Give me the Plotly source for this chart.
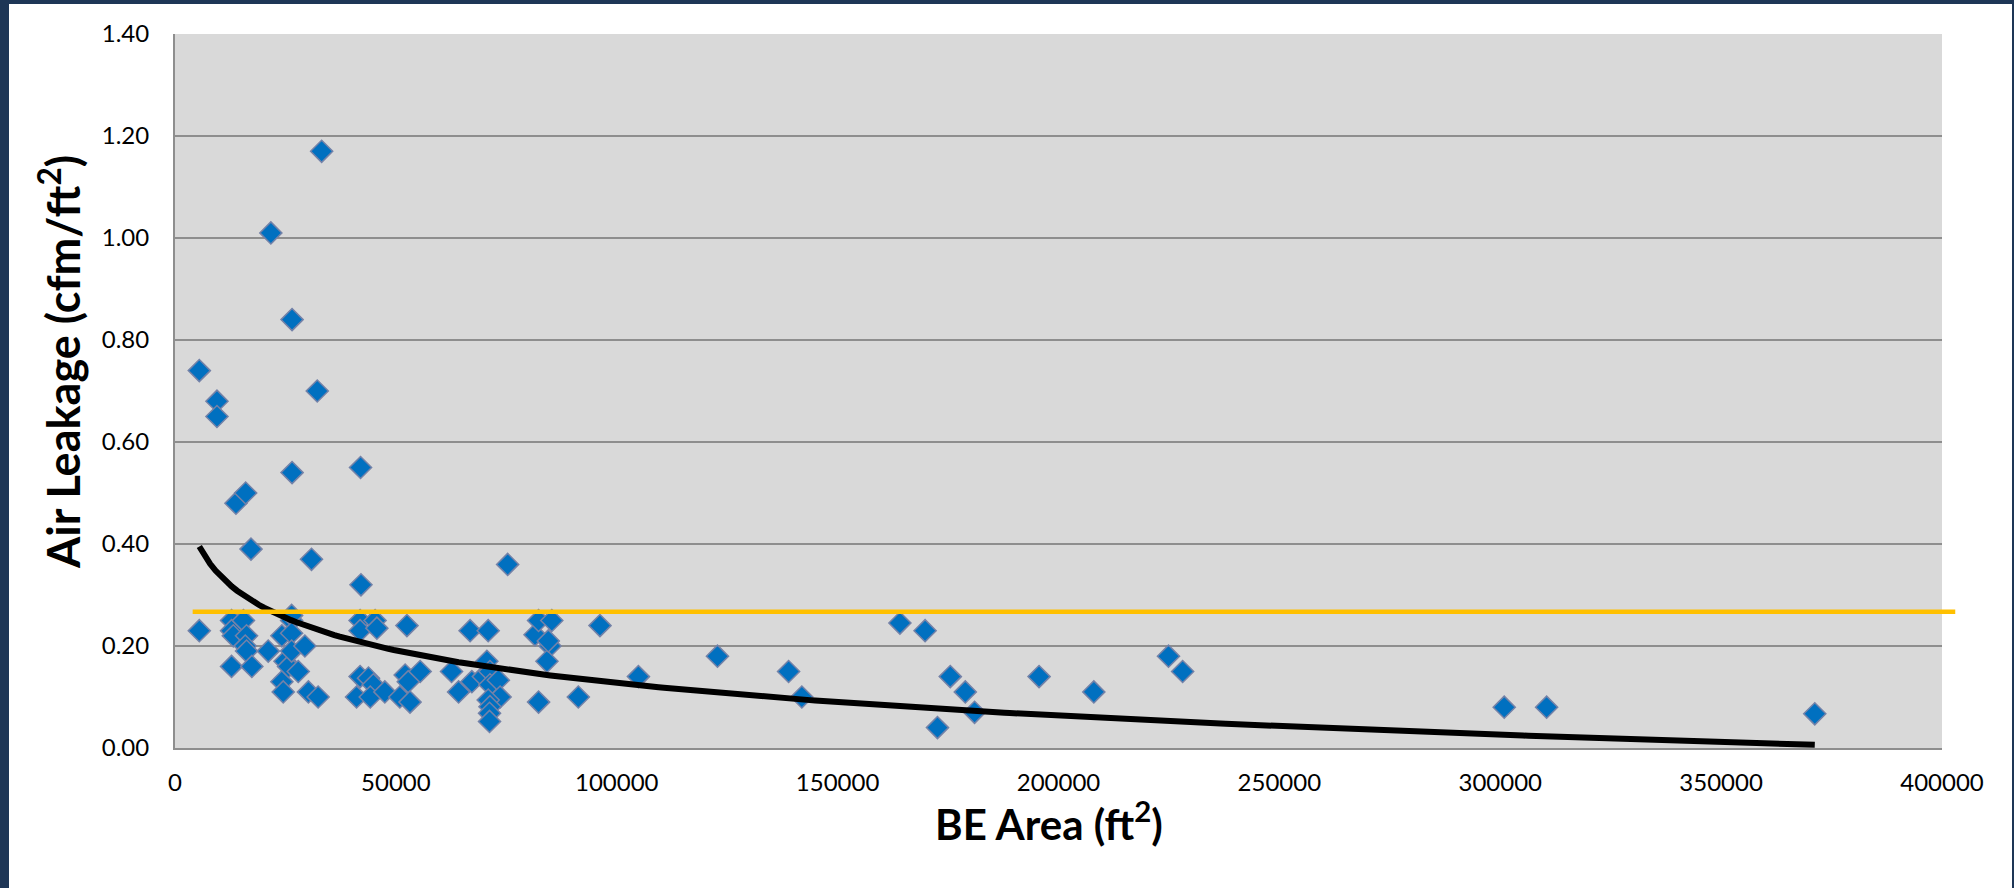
import numpy as np
import plotly.graph_objects as go

# ---- data ----
be_area_ft2 = [
    5500, 5500, 9500, 9500, 12800, 12800, 13200, 12800, 13800, 15500,
    16200, 15900, 16200, 16000, 17200, 17400, 21100, 21700, 24200, 24900,
    24200, 24500, 25700, 26400, 26400, 26400, 26400, 26500, 26500, 27900,
    29400, 30200, 30900, 32200, 32400, 33200, 41900, 41900, 42000, 42100,
    41900, 43800, 44900, 41100, 44200, 45300, 45700, 47500, 50900, 52100,
    52500, 52800, 53200, 55500, 62600, 64200, 66800, 67200, 69800, 70600,
    70900, 71300, 71300, 73200, 73600, 70900, 71300, 71200, 71200, 75300,
    81500, 82300, 82300, 84900, 84200, 85300, 84500, 91300, 96200, 104900,
    122800, 138900, 141900, 164100, 169800, 172600, 175500, 178900, 181000, 195600,
    208000, 224900, 228100, 300900, 310500, 371200,
]
air_leakage_cfm_ft2 = [
    0.74, 0.23, 0.68, 0.65, 0.25, 0.23, 0.22, 0.16, 0.48, 0.25,
    0.22, 0.20, 0.19, 0.50, 0.39, 0.16, 0.19, 1.01, 0.22, 0.17,
    0.13, 0.11, 0.16, 0.25, 0.26, 0.225, 0.19, 0.84, 0.54, 0.15,
    0.20, 0.11, 0.37, 0.70, 0.10, 1.17, 0.25, 0.23, 0.55, 0.32,
    0.14, 0.137, 0.124, 0.10, 0.10, 0.25, 0.235, 0.11, 0.10, 0.143,
    0.24, 0.13, 0.09, 0.15, 0.15, 0.11, 0.23, 0.13, 0.14, 0.17,
    0.23, 0.15, 0.124, 0.133, 0.10, 0.094, 0.081, 0.068, 0.052, 0.36,
    0.222, 0.25, 0.09, 0.20, 0.17, 0.25, 0.21, 0.10, 0.24, 0.14,
    0.18, 0.15, 0.10, 0.245, 0.23, 0.04, 0.14, 0.11, 0.07, 0.14,
    0.11, 0.18, 0.15, 0.08, 0.08, 0.067,
]

# logarithmic trendline y = a + b*ln(x), coefficients
trend_intercept = 1.190
trend_slope = -0.0923

# target (threshold) line
target_value = 0.267
target_x_start = 4000
target_x_end = 403000

x_axis_max = 400000
y_axis_max = 1.4
x_ticks = [0, 50000, 100000, 150000, 200000, 250000, 300000, 350000, 400000]
y_ticks = [0.0, 0.2, 0.4, 0.6, 0.8, 1.0, 1.2, 1.4]

xs = np.array(be_area_ft2, dtype=float)
trend_x = np.linspace(xs.min(), xs.max(), 300)
trend_y = trend_intercept + trend_slope * np.log(trend_x)

FONT = "Lato"
GRID = "#8E8E8E"

fig = go.Figure()

fig.add_trace(go.Scatter(
    x=be_area_ft2, y=air_leakage_cfm_ft2, mode="markers",
    marker=dict(symbol="diamond", size=17, color="#0070C0",
                line=dict(color="#7482A8", width=1.5)),
    showlegend=False, cliponaxis=False,
))

fig.add_trace(go.Scatter(
    x=trend_x, y=trend_y, mode="lines",
    line=dict(color="black", width=6),
    showlegend=False,
))

# threshold line (slightly overhangs the plot area, as in the original)
fig.add_shape(type="line", xref="paper", yref="y",
              x0=target_x_start / x_axis_max, x1=target_x_end / x_axis_max,
              y0=target_value, y1=target_value,
              line=dict(color="#FFC000", width=4.5), layer="above")

# dark slide border around the white card
W, H = 2014, 888
L, R, T, B = 175, 72, 34, 140
pw, ph = W - L - R, H - T - B
def px2x(p):
    return (p - L) / pw
def py2y(p):
    return (H - B - p) / ph
border = "#1E3656"
for (x0, x1, y0, y1) in [(0, 9, 0, H), (0, W, 0, 4), (2012, W, 0, H)]:
    fig.add_shape(type="rect", xref="paper", yref="paper",
                  x0=px2x(x0), x1=px2x(x1), y0=py2y(y1), y1=py2y(y0),
                  fillcolor=border, line=dict(width=0), layer="above")

fig.add_annotation(text="Air Leakage (cfm/ft<sup>2</sup>)", textangle=-90,
                   xref="paper", yref="paper", x=px2x(60), y=py2y(362),
                   xanchor="center", yanchor="middle", showarrow=False,
                   font=dict(family=FONT, size=45, color="black", weight="bold"))
fig.add_annotation(text="BE Area (ft<sup>2</sup>)",
                   xref="paper", yref="paper", x=px2x(1049), y=py2y(821),
                   xanchor="center", yanchor="middle", showarrow=False,
                   font=dict(family=FONT, size=42, color="black", weight="bold"))

fig.update_layout(
    width=W, height=H,
    margin=dict(l=L, r=R, t=T, b=B, pad=0),
    paper_bgcolor="white", plot_bgcolor="#D9D9D9",
    font=dict(family=FONT, color="black"),
    showlegend=False,
)
fig.update_xaxes(range=[0, x_axis_max], tickvals=x_ticks, tickformat="d",
                 showgrid=False, zeroline=False, showline=True,
                 linecolor=GRID, linewidth=2, ticks="",
                 ticklabelstandoff=12, tickfont=dict(size=24, family=FONT))
fig.update_yaxes(range=[0, y_axis_max], tickvals=y_ticks, tickformat=".2f",
                 showgrid=True, gridcolor=GRID, gridwidth=2, zeroline=False,
                 showline=True, linecolor=GRID, linewidth=2, ticks="",
                 ticklabelstandoff=19, tickfont=dict(size=24, family=FONT))

fig.write_html("out.html", config={"displayModeBar": False})
